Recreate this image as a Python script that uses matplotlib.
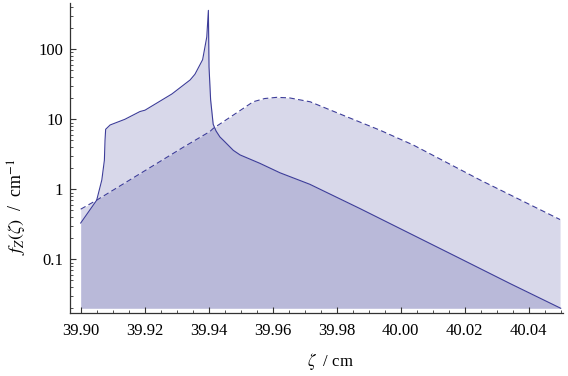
import matplotlib
matplotlib.use("Agg")
import matplotlib.pyplot as plt
import numpy as np
from matplotlib.ticker import MultipleLocator, LogLocator, NullFormatter, FixedLocator

plt.rcParams['font.family'] = ['Liberation Serif', 'DejaVu Serif']
plt.rcParams['mathtext.fontset'] = 'stix'

# solid curve
z_solid = [39.9000, 39.9050, 39.9066, 39.9074, 39.9076, 39.9078, 39.9092, 39.9138,
           39.9185, 39.9201, 39.9285, 39.9342, 39.9357, 39.9381, 39.9394, 39.9399,
           39.9401, 39.9406, 39.9414, 39.9423, 39.9435, 39.9446, 39.9477, 39.9498,
           39.9560, 39.9623, 39.9716, 39.9873, 40.0185, 40.0342, 40.0500]
f_solid = [0.33, 0.70, 1.36, 2.6, 5.0, 7.2, 8.3, 10.0,
           12.9, 13.5, 23.0, 36.5, 44.0, 71.0, 150.0, 360.0,
           56.0, 19.0, 8.5, 6.8, 5.6, 5.0, 3.6, 3.1,
           2.35, 1.72, 1.18, 0.53, 0.103, 0.045, 0.020]

# dashed curve
z_dash = [39.9000, 39.9050, 39.9248, 39.9321, 39.9404, 39.9414, 39.9477, 39.9539,
          39.9575, 39.9613, 39.9653, 39.9717, 39.9831, 39.9935, 40.0039, 40.0248, 40.0498]
f_dash = [0.52, 0.70, 2.5, 4.0, 6.7, 7.4, 11.5, 17.8,
          19.8, 20.6, 20.2, 17.8, 10.9, 7.0, 4.3, 1.36, 0.37]

x_ticks = [39.90, 39.92, 39.94, 39.96, 39.98, 40.00, 40.02, 40.04]
x_labels = ['39.90', '39.92', '39.94', '39.96', '39.98', '40.00', '40.02', '40.04']
y_ticks = [0.1, 1, 10, 100]
y_labels = ['0.1', '1', '10', '100']

f_floor = 0.02
col = (0.24, 0.24, 0.6)

fig = plt.figure(figsize=(5.68, 3.76), dpi=100)
ax = fig.add_axes([70 / 568, 62.7 / 376, 493 / 568, 310 / 376])

ax.fill_between(z_solid, f_solid, f_floor, color=col, alpha=0.2, linewidth=0)
ax.fill_between(z_dash, f_dash, f_floor, color=col, alpha=0.2, linewidth=0)
ax.plot(z_solid, f_solid, color=col, lw=0.8)
ax.plot(z_dash, f_dash, color=col, lw=0.8, dashes=(5, 3))

ax.set_yscale('log')
ax.set_xlim(39.90 - 10.7 / 3200, 39.90 + 482.3 / 3200)
ax.set_ylim(10 ** -1.771, 10 ** 2.657)

for s in ['top', 'right']:
    ax.spines[s].set_visible(False)
for s in ['left', 'bottom']:
    ax.spines[s].set_color('#333333')
    ax.spines[s].set_linewidth(0.9)

ax.xaxis.set_major_locator(FixedLocator(x_ticks))
ax.xaxis.set_minor_locator(MultipleLocator(0.005))
ax.set_xticklabels(x_labels)
ax.yaxis.set_major_locator(FixedLocator(y_ticks))
ax.set_yticklabels(y_labels)
ax.yaxis.set_minor_locator(LogLocator(base=10, subs=np.arange(2, 10)))
ax.yaxis.set_minor_formatter(NullFormatter())

ax.tick_params(which='major', direction='in', length=4, width=0.8, color='#333333',
               labelsize=12)
ax.tick_params(axis='x', which='major', pad=7)
ax.tick_params(axis='y', which='major', pad=5)
ax.tick_params(which='minor', direction='in', length=2, width=0.6, color='#333333')

ax.text(0.529, -0.156, r'$\zeta$  / cm', fontsize=12, transform=ax.transAxes,
        ha='center', va='center')
ax.text(-0.106, 0.343, r'$f_Z(\zeta)$  /  cm$^{-1}$', fontsize=13, rotation=90,
        transform=ax.transAxes, ha='center', va='center')

fig.savefig('out.png', dpi=100)
